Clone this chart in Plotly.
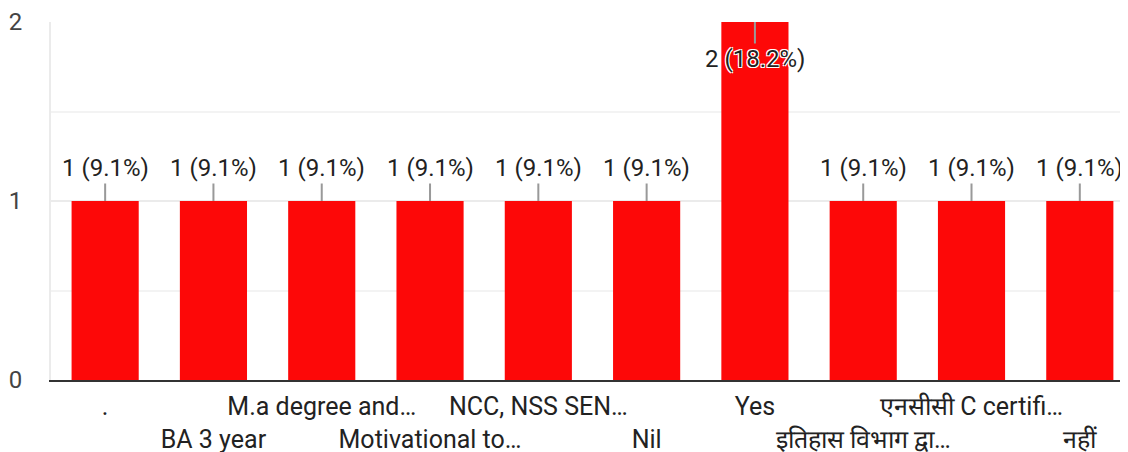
import plotly.graph_objects as go

categories = [".", "BA 3 year", "M.a degree and…", "Motivational to…", "NCC, NSS SEN…",
              "Nil", "Yes", "इतिहास विभाग द्वा…", "एनसीसी C certifi…", "नहीं"]
counts = [1, 1, 1, 1, 1, 1, 2, 1, 1, 1]
percents = ["9.1%", "9.1%", "9.1%", "9.1%", "9.1%", "9.1%", "18.2%", "9.1%", "9.1%", "9.1%"]
y_ticks = [0, 1, 2]

FONT = "Roboto, Arial, sans-serif"
xs = list(range(len(categories)))
ticktext = [c if i % 2 == 0 else "<br>" + c for i, c in enumerate(categories)]

fig = go.Figure(go.Bar(x=xs, y=counts, marker_color="#fd0808", marker_line_width=0,
                       hoverinfo="skip"))

ymax = max(counts)
halo = "1px 1px 0 #fff, -1px -1px 0 #fff, 1px -1px 0 #fff, -1px 1px 0 #fff"
for x, v, p in zip(xs, counts, percents):
    inside = v == ymax
    fig.add_annotation(x=x, y=v, xref="x", yref="y", text=f"{v} ({p})",
                       showarrow=True, arrowhead=0, arrowwidth=2, arrowcolor="#999",
                       ax=0, ay=37 if inside else -33, standoff=0, startstandoff=0,
                       font=dict(family=FONT, size=24, color="#222",
                                 shadow=halo if inside else "none"))

fig.update_layout(
    width=1120, height=444,
    margin=dict(l=43, r=0, t=14, b=72, autoexpand=False),
    paper_bgcolor="white", plot_bgcolor="white",
    showlegend=False, bargap=0.38,
    font=dict(family=FONT, size=25, color="#222"),
    xaxis=dict(range=[-0.5, 9.445], tickvals=xs, ticktext=ticktext, showgrid=False,
               showline=True, linecolor="#333", linewidth=2, ticks="", ticklabelstandoff=3,
               tickangle=0, automargin=False,
               tickfont=dict(family=FONT, size=25, color="#222"), fixedrange=True),
    yaxis=dict(range=[0, 2], tickvals=y_ticks, showgrid=True, gridcolor="#ebebeb", gridwidth=2,
               zeroline=False, showline=True, linecolor="#ebebeb", linewidth=2,
               minor=dict(dtick=0.5, showgrid=True, gridcolor="#f3f3f3", gridwidth=2),
               ticks="", ticklabelstandoff=22, automargin=False,
               tickfont=dict(family=FONT, size=24, color="#444"), fixedrange=True),
)

fig.write_html("out.html")
